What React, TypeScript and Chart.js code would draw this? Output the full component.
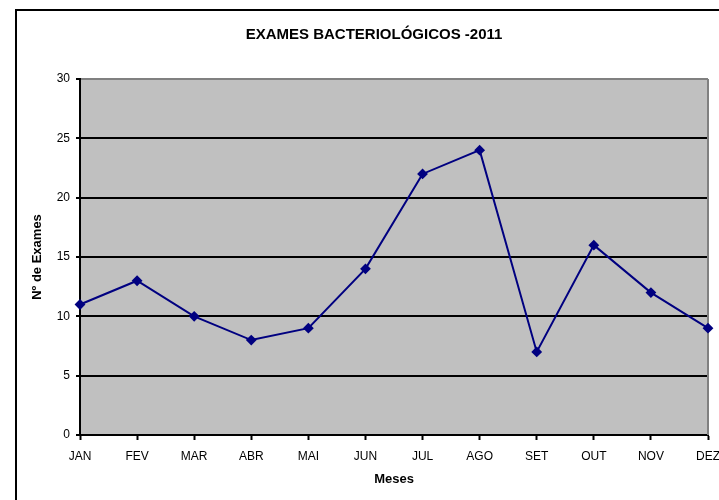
import React, { useEffect, useRef } from "react";
import { Chart, registerables } from "chart.js";

Chart.register(...registerables);

const months = ["JAN", "FEV", "MAR", "ABR", "MAI", "JUN", "JUL", "AGO", "SET", "OUT", "NOV", "DEZ"];
const exames = [11, 13, 10, 8, 9, 14, 22, 24, 7, 16, 12, 9];
const chartTitle = "EXAMES BACTERIOLÓGICOS -2011";
const xTitle = "Meses";
const yTitle = "Nº de Exames";

const FONT = "'Liberation Sans', Arial, sans-serif";

const framePlugin = {
  id: "frame",
  afterLayout(chart: any) {
    const t = chart.titleBlock;
    if (t) {
      t.left = 16;
      t.right = 732;
    }
  },
  beforeDraw(chart: any) {
    const { ctx, chartArea: a, width, height } = chart;
    ctx.save();
    ctx.fillStyle = "#ffffff";
    ctx.fillRect(0, 0, width, height);
    ctx.strokeStyle = "#000000";
    ctx.lineWidth = 2;
    ctx.strokeRect(16, 10, 800, 600);
    ctx.fillStyle = "#C0C0C0";
    ctx.fillRect(a.left, a.top, a.right - a.left, a.bottom - a.top);
    ctx.restore();
  },
  beforeDatasetsDraw(chart: any) {
    const { ctx, chartArea: a } = chart;
    ctx.save();
    ctx.strokeStyle = "#808080";
    ctx.lineWidth = 2;
    ctx.beginPath();
    ctx.moveTo(a.right, a.top);
    ctx.lineTo(a.right, a.bottom);
    ctx.stroke();
    ctx.restore();
  },
};

export default function App() {
  const ref = useRef<HTMLCanvasElement | null>(null);

  useEffect(() => {
    if (!ref.current) return;
    const chart = new Chart(ref.current, {
      type: "line",
      data: {
        labels: months,
        datasets: [
          {
            data: exames,
            borderColor: "#000080",
            backgroundColor: "#000080",
            borderWidth: 2,
            pointStyle: "rectRot",
            pointRadius: 4,
            pointBackgroundColor: "#000080",
            pointBorderColor: "#000080",
            tension: 0,
          },
        ],
      },
      options: {
        responsive: false,
        animation: false,
        devicePixelRatio: 1,
        layout: { padding: { left: 0, right: 11, top: 0, bottom: 0 } },
        plugins: {
          legend: { display: false },
          tooltip: { enabled: false },
          title: {
            display: true,
            text: chartTitle,
            color: "#000",
            font: { family: FONT, size: 15, weight: "bold" },
            padding: { top: 26, bottom: 35 },
          },
        },
        scales: {
          x: {
            offset: false,
            afterFit(scale: any) {
              scale.height = 65;
              scale.paddingRight = 0;
              scale.paddingLeft = 0;
            },
            grid: {
              drawOnChartArea: false,
              drawTicks: true,
              tickLength: 5,
              tickColor: "#000",
              tickWidth: 2,
            },
            border: { color: "#000", width: 2 },
            ticks: {
              color: "#000",
              font: { family: FONT, size: 12 },
              padding: 9,
              maxRotation: 0,
              autoSkip: false,
            },
            title: {
              display: true,
              text: xTitle,
              color: "#000",
              font: { family: FONT, size: 13, weight: "bold" },
              padding: { top: 0, bottom: 13 },
            },
          },
          y: {
            min: 0,
            max: 30,
            afterFit(scale: any) {
              scale.width = 80;
            },
            grid: {
              color: (c: any) => (c.tick && c.tick.value === 30 ? "#808080" : "#000"),
              lineWidth: 2,
              tickLength: 4,
              tickColor: "#000",
              tickWidth: 2,
            },
            border: { color: "#000", width: 2 },
            ticks: {
              stepSize: 5,
              color: "#000",
              font: { family: FONT, size: 12 },
              padding: 6,
            },
            title: {
              display: true,
              text: yTitle,
              color: "#000",
              font: { family: FONT, size: 13, weight: "bold" },
              padding: { top: 30, bottom: 0 },
            },
          },
        },
      },
      plugins: [framePlugin],
    } as any);
    return () => chart.destroy();
  }, []);

  return (
    <div style={{ position: "fixed", left: 0, top: 0, width: 719, height: 500 }}>
      <canvas ref={ref} width={719} height={500} style={{ display: "block" }} />
    </div>
  );
}
